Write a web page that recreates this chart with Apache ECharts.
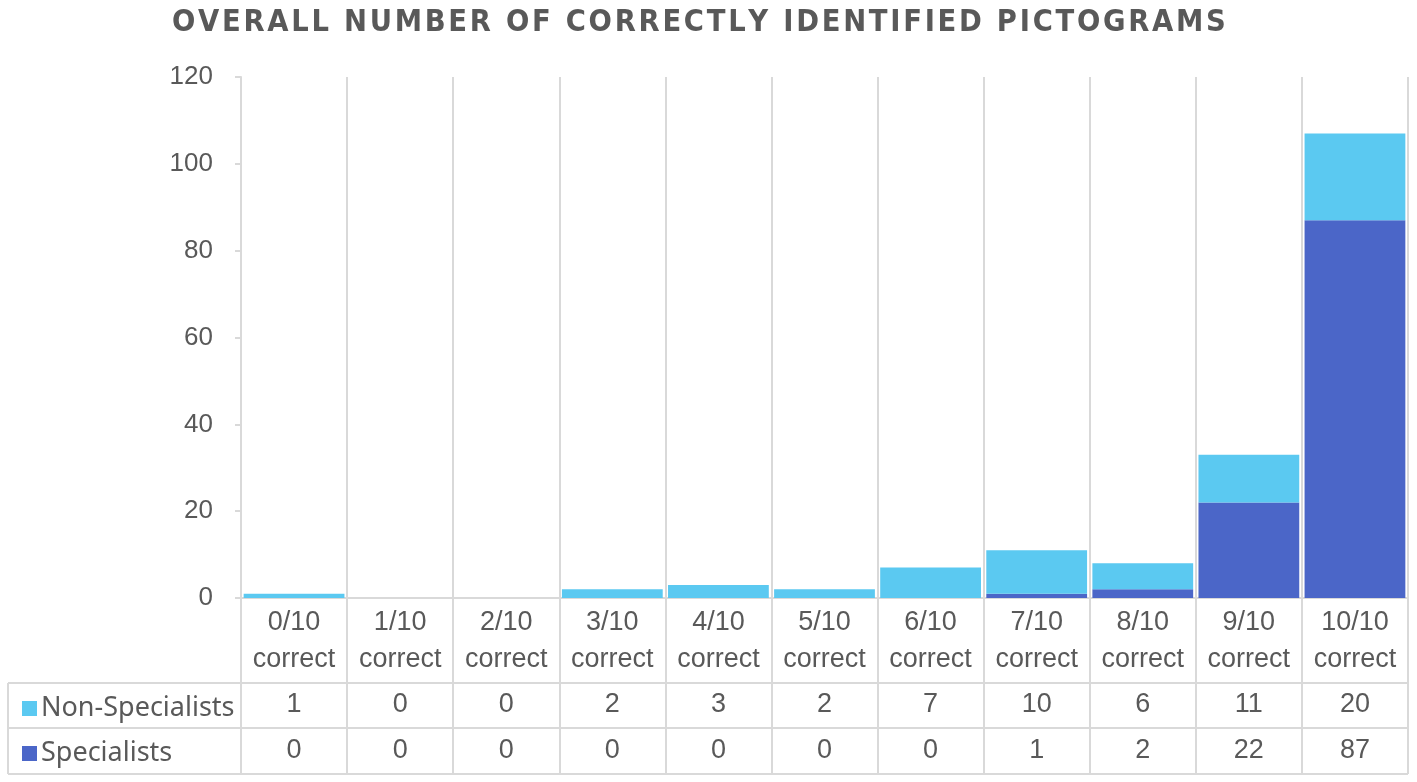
<!DOCTYPE html>
<html>
<head>
<meta charset="utf-8">
<script src="https://cdn.jsdelivr.net/npm/echarts@6/dist/echarts.min.js"></script>
<style>
  html, body { margin: 0; padding: 0; background: #fff; }
  #chart { width: 1417px; height: 782px; }
</style>
</head>
<body>
<div id="chart"></div>
<script>
const categories = ["0/10", "1/10", "2/10", "3/10", "4/10", "5/10", "6/10", "7/10", "8/10", "9/10", "10/10"];
const nonSpecialists = [1, 0, 0, 2, 3, 2, 7, 10, 6, 11, 20];
const specialists = [0, 0, 0, 0, 0, 0, 0, 1, 2, 22, 87];
const seriesNames = ["Non-Specialists", "Specialists"];

const gray = "#595959";
const lineCol = "#d9d9d9";
const font = "Liberation Sans";

// spread the title letters a bit, like the original
const titleText = "OVERALL NUMBER OF CORRECTLY IDENTIFIED PICTOGRAMS".split("").join("\u200A");

var chart = echarts.init(document.getElementById('chart'));

const gridLeft = 241, gridRight = 1408, axisY = 598, tableBottom = 774;

chart.setOption({
    animation: false,
    title: {
        text: titleText,
        left: 167,
        top: 3,
        textStyle: {
            fontFamily: "DejaVu Sans Condensed",
            fontWeight: "bold",
            fontSize: 30.5,
            color: gray
        }
    },
    legend: {
        orient: "vertical",
        left: 17,
        top: 690,
        icon: "rect",
        itemWidth: 15,
        itemHeight: 15,
        itemGap: 18,
        data: seriesNames,
        textStyle: { fontFamily: "Noto Sans", fontSize: 27, color: gray, padding: [0, 0, 0, -1] },
        selectedMode: false
    },
    grid: {
        left: gridLeft,
        right: 1417 - gridRight,
        top: 77,
        bottom: 782 - axisY
    },
    xAxis: [
        {
            type: "category",
            data: categories,
            axisLine: { lineStyle: { color: lineCol, width: 2 } },
            axisTick: { show: true, interval: 0, length: tableBottom - axisY, lineStyle: { color: lineCol, width: 2 } },
            splitLine: { show: true, interval: 0, lineStyle: { color: lineCol, width: 2 } },
            axisLabel: {
                interval: 0,
                margin: 6,
                fontFamily: font,
                fontSize: 27,
                lineHeight: 37,
                color: gray,
                formatter: v => v + "\ncorrect"
            }
        },
        {
            type: "category",
            data: nonSpecialists.map(String),
            position: "bottom",
            offset: 86,
            axisLine: { show: false },
            axisTick: { show: false },
            axisLabel: { interval: 0, margin: 7, fontFamily: font, fontSize: 27, color: gray }
        },
        {
            type: "category",
            data: specialists.map(String),
            position: "bottom",
            offset: 132,
            axisLine: { show: false },
            axisTick: { show: false },
            axisLabel: { interval: 0, margin: 7, fontFamily: font, fontSize: 27, color: gray }
        }
    ],
    yAxis: {
        type: "value",
        min: 0,
        max: 120,
        interval: 20,
        axisLine: { show: true, lineStyle: { color: lineCol, width: 2 } },
        axisTick: { show: true, length: 6, lineStyle: { color: lineCol, width: 2 } },
        splitLine: { show: false },
        axisLabel: { margin: 28, fontFamily: font, fontSize: 26, color: gray }
    },
    series: [
        {
            name: "Specialists",
            type: "bar",
            stack: "total",
            data: specialists,
            barWidth: "95%",
            itemStyle: { color: "#4b66c8" }
        },
        {
            name: "Non-Specialists",
            type: "bar",
            stack: "total",
            data: nonSpecialists,
            barWidth: "95%",
            itemStyle: { color: "#5bc9f1" }
        }
    ],
    graphic: [
        { type: "line", shape: { x1: 8, y1: 683, x2: gridRight, y2: 683 }, style: { stroke: lineCol, lineWidth: 2 } },
        { type: "line", shape: { x1: 8, y1: 728, x2: gridRight, y2: 728 }, style: { stroke: lineCol, lineWidth: 2 } },
        { type: "line", shape: { x1: 8, y1: tableBottom, x2: gridRight, y2: tableBottom }, style: { stroke: lineCol, lineWidth: 2 } },
        { type: "line", shape: { x1: 8, y1: 683, x2: 8, y2: tableBottom }, style: { stroke: lineCol, lineWidth: 2 } }
    ]
});

window.addEventListener("resize", () => {
    if (chart) chart.resize();
});
</script>
</body>
</html>
